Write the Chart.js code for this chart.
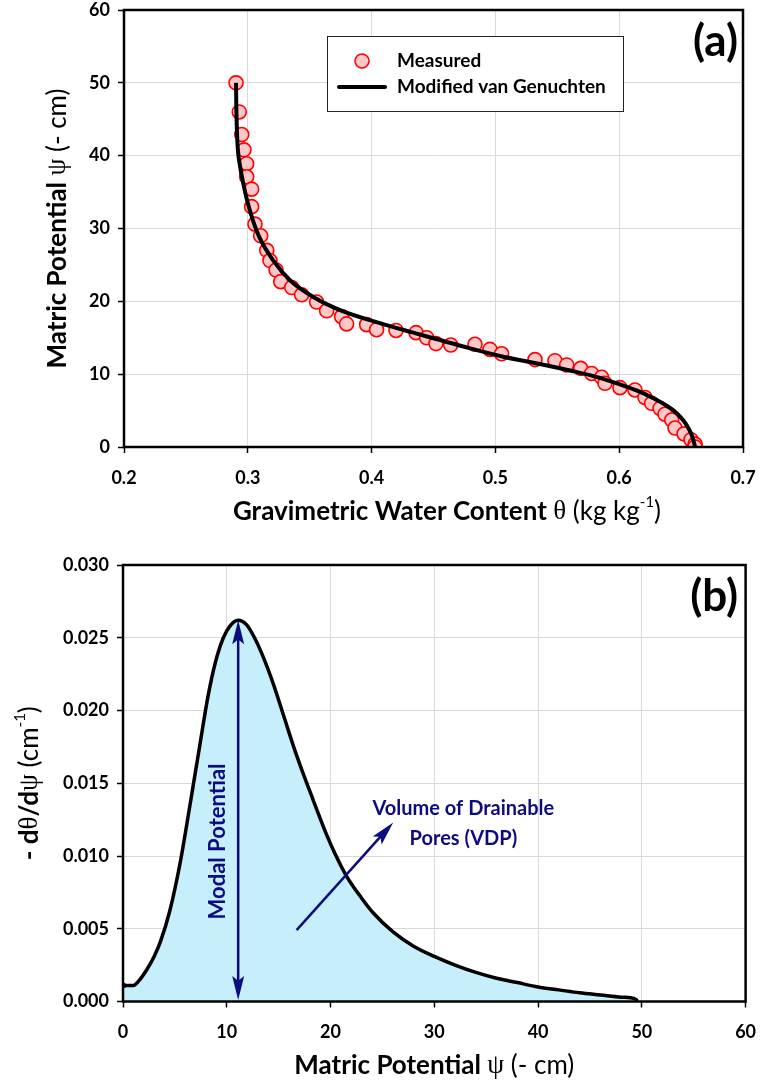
<!DOCTYPE html>
<html>
<head>
<meta charset="utf-8">
<script src="https://cdn.jsdelivr.net/npm/chart.js@4.4.1/dist/chart.umd.min.js"></script>
<style>
  body { margin: 0; background: #fff; }
  canvas { display: block; }
</style>
</head>
<body>
<canvas id="chartA" width="761" height="540"></canvas>
<canvas id="chartB" width="761" height="544"></canvas>
<script>
// (a) measured retention data: water content θ vs matric potential ψ
const thetaMeasured = [0.2905, 0.2931, 0.2951, 0.2969, 0.2991, 0.2991, 0.3031, 0.3031, 0.3058, 0.3104,
  0.3153, 0.3179, 0.3228, 0.3266, 0.3355, 0.3435, 0.3556, 0.3637, 0.3758, 0.3798,
  0.3960, 0.4040, 0.4197, 0.4359, 0.4445, 0.4520, 0.4639, 0.4835, 0.4956, 0.5050,
  0.5320, 0.5481, 0.5576, 0.5689, 0.5777, 0.5858, 0.5885, 0.6006, 0.6127, 0.6208,
  0.6262, 0.6330, 0.6370, 0.6424, 0.6451, 0.6524, 0.6580, 0.6613, 0.6613];
const psiMeasured = [50.0, 46.0, 42.9, 40.8, 38.9, 37.1, 35.4, 33.0, 30.6, 29.0,
  27.0, 25.6, 24.3, 22.7, 21.9, 20.9, 19.9, 18.7, 17.9, 16.9,
  16.8, 16.1, 16.0, 15.7, 15.0, 14.2, 14.0, 14.1, 13.4, 12.8,
  12.0, 11.85, 11.26, 10.8, 10.1, 9.57, 8.75, 8.15, 7.83, 6.8,
  6.0, 5.3, 4.5, 3.7, 2.6, 1.8, 1.0, 0.4, 0.0];

// (a) fitted curve (modified van Genuchten)
const thetaFit = [0.2905, 0.2907, 0.2911, 0.2919, 0.2937, 0.2962, 0.2995, 0.3040, 0.3099, 0.3206,
  0.3341, 0.3529, 0.3745, 0.4068, 0.4337, 0.4741, 0.5064, 0.5360, 0.5603, 0.5800,
  0.6006, 0.6150, 0.6276, 0.6380, 0.6460, 0.6520, 0.6565, 0.6595, 0.6613];
const psiFit = [50, 47, 44, 41, 38.6, 36.3, 33.8, 31.2, 28.6, 25.6,
  22.9, 20.6, 18.8, 17.0, 15.7, 13.8, 12.4, 11.4, 10.5, 9.7,
  8.6, 7.7, 6.7, 5.7, 4.7, 3.6, 2.4, 1.2, 0];

// (b) pore size distribution -dθ/dψ vs ψ
const psiDist = [0, 1.0, 1.5, 2.3, 3.0, 3.6, 4.5, 5.5, 6.5, 7.4, 8.2, 8.9, 9.67, 10.3, 11.1,
  11.9, 12.6, 13.5, 14.5, 15.5, 16.5, 17.5, 18.3, 19.6, 20.4, 21.55, 23, 24.1, 26,
  28, 30, 32, 34, 36, 38, 40, 42, 44, 46, 48, 49.3, 49.5];
const slopeDist = [0.0011, 0.0011, 0.0014, 0.0022, 0.0031, 0.0041, 0.0062, 0.0095, 0.0137, 0.0176,
  0.0210, 0.0233, 0.0250, 0.0258, 0.0262, 0.0259, 0.0251, 0.0237, 0.0218, 0.0196,
  0.0174, 0.0154, 0.0139, 0.0115, 0.0102, 0.0086, 0.0071, 0.0061, 0.0048, 0.0038,
  0.0031, 0.0025, 0.0020, 0.0016, 0.0013, 0.0010, 0.0008, 0.0006, 0.00045, 0.0003,
  0.0002, 0.0001];

// tick values
const topXTicks = [0.2, 0.3, 0.4, 0.5, 0.6, 0.7];
const topYTicks = [0, 10, 20, 30, 40, 50, 60];
const botXTicks = [0, 10, 20, 30, 40, 50, 60];
const botYTicks = [0, 0.005, 0.010, 0.015, 0.020, 0.025, 0.030];

// annotation anchors in (b), data units
const modalPsi = 11.1;
const modalPeak = 0.0262;
const vdpArrow = { from: [16.73, 0.0049], to: [26.04, 0.0123] };

const NAVY = '#0c0c80';
const GRID = '#d9d9d9';
const BOLD = 'bold 26px Lato';
const NORM = '26px Lato';
const SYM = '27px "Liberation Serif"';
const SUP = '15px Lato';

const toPts = (xs, ys) => xs.map((x, i) => ({ x: x, y: ys[i] }));

function drawRich(ctx, parts, x, y, angle) {
  ctx.save();
  ctx.translate(x, y);
  ctx.rotate(angle || 0);
  ctx.textBaseline = 'middle';
  ctx.textAlign = 'left';
  ctx.fillStyle = '#000';
  let total = 0;
  parts.forEach(p => { ctx.font = p.font; total += ctx.measureText(p.text).width; });
  let cx = -total / 2;
  parts.forEach(p => {
    ctx.font = p.font;
    ctx.fillText(p.text, cx, p.dy || 0);
    cx += ctx.measureText(p.text).width;
  });
  ctx.restore();
}

function arrowHead(ctx, x1, y1, x2, y2, len, half) {
  const a = Math.atan2(y2 - y1, x2 - x1);
  ctx.beginPath();
  ctx.moveTo(x2, y2);
  ctx.lineTo(x2 - len * Math.cos(a) + half * Math.sin(a), y2 - len * Math.sin(a) - half * Math.cos(a));
  ctx.lineTo(x2 - len * 0.8 * Math.cos(a), y2 - len * 0.8 * Math.sin(a));
  ctx.lineTo(x2 - len * Math.cos(a) - half * Math.sin(a), y2 - len * Math.sin(a) + half * Math.cos(a));
  ctx.closePath();
  ctx.fill();
}

const framePlugin = {
  id: 'frame',
  afterDatasetsDraw(chart) {
    const { ctx, chartArea: a } = chart;
    ctx.save();
    ctx.strokeStyle = '#000';
    ctx.lineWidth = 2.5;
    ctx.strokeRect(a.left, a.top, a.right - a.left, a.bottom - a.top);
    ctx.restore();
  }
};

// fixed axis size, and no automatic label overhang padding
function fixSize(prop, val) {
  return s => {
    s[prop] = val;
    s.paddingTop = 0; s.paddingBottom = 0; s.paddingLeft = 0; s.paddingRight = 0;
  };
}

function axisOpts(min, max, ticks, fmt, pad) {
  return {
    type: 'linear', min: min, max: max,
    afterBuildTicks: s => { s.ticks = ticks.map(v => ({ value: v })); },
    grid: { color: GRID, lineWidth: 1, tickColor: '#000', tickLength: 6, tickWidth: 1.5 },
    border: { display: false },
    ticks: { color: '#000', font: { family: 'Lato', weight: 'bold', size: 18 }, padding: pad,
      maxRotation: 0, callback: v => v.toFixed(fmt) }
  };
}

// ---------- chart (a) ----------
const optsA = {
  responsive: false, animation: false,
  layout: { padding: { top: 10, right: 18, left: 0, bottom: 0 } },
  plugins: { legend: { display: false }, tooltip: { enabled: false } },
  scales: {
    x: Object.assign(axisOpts(0.2, 0.7, topXTicks, 1, 14), { afterFit: fixSize('height', 93) }),
    y: Object.assign(axisOpts(0, 60, topYTicks, 0, 8), { afterFit: fixSize('width', 124) })
  }
};

const decorA = {
  id: 'decorA',
  afterDraw(chart) {
    const { ctx, chartArea: a } = chart;
    // legend
    const lx = 327, ly = 36, lw = 296, lh = 75;
    ctx.save();
    ctx.fillStyle = '#fff';
    ctx.fillRect(lx, ly, lw, lh);
    ctx.strokeStyle = '#222';
    ctx.lineWidth = 1;
    ctx.strokeRect(lx + 0.5, ly + 0.5, lw, lh);
    const meas = chart.data.datasets[1];
    ctx.beginPath();
    ctx.arc(362, 61, 7, 0, Math.PI * 2);
    ctx.fillStyle = meas.pointBackgroundColor;
    ctx.fill();
    ctx.strokeStyle = meas.pointBorderColor;
    ctx.lineWidth = meas.pointBorderWidth;
    ctx.stroke();
    ctx.beginPath();
    ctx.moveTo(339, 87);
    ctx.lineTo(385, 87);
    ctx.strokeStyle = '#000';
    ctx.lineWidth = 4;
    ctx.lineCap = 'round';
    ctx.stroke();
    ctx.fillStyle = '#000';
    ctx.font = 'bold 19px Lato';
    ctx.textBaseline = 'middle';
    ctx.fillText(meas.label, 397, 61);
    ctx.fillText(chart.data.datasets[0].label, 397, 87);
    // panel label
    ctx.font = 'bold 44px Lato';
    ctx.textAlign = 'right';
    ctx.fillText('(a)', 738, 42);
    ctx.restore();
    // axis titles
    drawRich(ctx, [
      { text: 'Gravimetric Water Content ', font: BOLD },
      { text: 'θ', font: SYM },
      { text: ' (kg kg', font: NORM },
      { text: '-1', font: SUP, dy: -10 },
      { text: ')', font: NORM }
    ], 447, 512, 0);
    drawRich(ctx, [
      { text: 'Matric Potential ', font: BOLD },
      { text: 'ψ', font: SYM },
      { text: ' (- cm)', font: NORM }
    ], 58, (a.top + a.bottom) / 2, -Math.PI / 2);
  }
};

new Chart(document.getElementById('chartA'), {
  type: 'scatter',
  data: {
    datasets: [
      { label: 'Modified van Genuchten', data: toPts(thetaFit, psiFit), showLine: true,
        borderColor: '#000', borderWidth: 4, pointRadius: 0, cubicInterpolationMode: 'monotone', order: 0 },
      { label: 'Measured', data: toPts(thetaMeasured, psiMeasured), showLine: false,
        pointRadius: 7, pointBackgroundColor: '#ffc7c7', pointBorderColor: '#ff0000', pointBorderWidth: 1.6, order: 1 }
    ]
  },
  options: optsA,
  plugins: [framePlugin, decorA]
});

// ---------- chart (b) ----------
const optsB = {
  responsive: false, animation: false,
  layout: { padding: { top: 25, right: 15.4, left: 0, bottom: 0 } },
  plugins: { legend: { display: false }, tooltip: { enabled: false } },
  scales: {
    x: Object.assign(axisOpts(0, 60, botXTicks, 0, 14), { afterFit: fixSize('height', 82.5) }),
    y: Object.assign(axisOpts(0, 0.03, botYTicks, 3, 8), { afterFit: fixSize('width', 123) })
  }
};

const decorB = {
  id: 'decorB',
  afterDraw(chart) {
    const { ctx, chartArea: a, scales: { x, y } } = chart;
    ctx.save();
    ctx.strokeStyle = NAVY;
    ctx.fillStyle = NAVY;
    ctx.lineWidth = 2.5;
    // modal potential double arrow
    const mx = x.getPixelForValue(modalPsi);
    const top = y.getPixelForValue(modalPeak);
    const bot = y.getPixelForValue(0.0001);
    ctx.beginPath();
    ctx.moveTo(mx, top + 15);
    ctx.lineTo(mx, bot - 15);
    ctx.stroke();
    arrowHead(ctx, mx, bot, mx, top, 24, 6);
    arrowHead(ctx, mx, top, mx, bot, 24, 6);
    // VDP arrow
    const x1 = x.getPixelForValue(vdpArrow.from[0]), y1 = y.getPixelForValue(vdpArrow.from[1]);
    const x2 = x.getPixelForValue(vdpArrow.to[0]), y2 = y.getPixelForValue(vdpArrow.to[1]);
    const ang = Math.atan2(y2 - y1, x2 - x1);
    ctx.beginPath();
    ctx.moveTo(x1, y1);
    ctx.lineTo(x2 - 14 * Math.cos(ang), y2 - 14 * Math.sin(ang));
    ctx.stroke();
    arrowHead(ctx, x1, y1, x2, y2, 24, 6);
    // annotation texts
    ctx.textAlign = 'center';
    ctx.textBaseline = 'middle';
    ctx.font = 'bold 20px Lato';
    ctx.fillText('Volume of Drainable', x.getPixelForValue(32.8), y.getPixelForValue(0.01328));
    ctx.fillText('Pores (VDP)', x.getPixelForValue(32.8), y.getPixelForValue(0.01122));
    ctx.save();
    ctx.translate(x.getPixelForValue(9.15), y.getPixelForValue(0.0110));
    ctx.rotate(-Math.PI / 2);
    ctx.font = 'bold 22px Lato';
    ctx.fillText('Modal Potential', 0, 0);
    ctx.restore();
    // panel label
    ctx.fillStyle = '#000';
    ctx.font = 'bold 44px Lato';
    ctx.textAlign = 'right';
    ctx.fillText('(b)', 738, 57);
    ctx.restore();
    // axis titles
    drawRich(ctx, [
      { text: 'Matric Potential ', font: BOLD },
      { text: 'ψ', font: SYM },
      { text: ' (- cm)', font: NORM }
    ], (a.left + a.right) / 2, 526, 0);
    drawRich(ctx, [
      { text: '- d', font: BOLD },
      { text: 'θ', font: SYM },
      { text: '/d', font: BOLD },
      { text: 'ψ', font: SYM },
      { text: ' (cm', font: NORM },
      { text: '-1', font: SUP, dy: -10 },
      { text: ')', font: NORM }
    ], 30, (a.top + a.bottom) / 2, -Math.PI / 2);
  }
};

new Chart(document.getElementById('chartB'), {
  type: 'scatter',
  data: {
    datasets: [
      { label: 'VDP', data: toPts(psiDist, slopeDist), showLine: true,
        borderColor: '#000', borderWidth: 3.5, borderCapStyle: 'round',
        backgroundColor: '#c6eefb', fill: 'origin',
        pointRadius: ctx => (ctx.dataIndex === 0 ? 3 : 0), pointBackgroundColor: '#000', pointBorderWidth: 0,
        cubicInterpolationMode: 'monotone' }
    ]
  },
  options: optsB,
  plugins: [framePlugin, decorB]
});
</script>
</body>
</html>
